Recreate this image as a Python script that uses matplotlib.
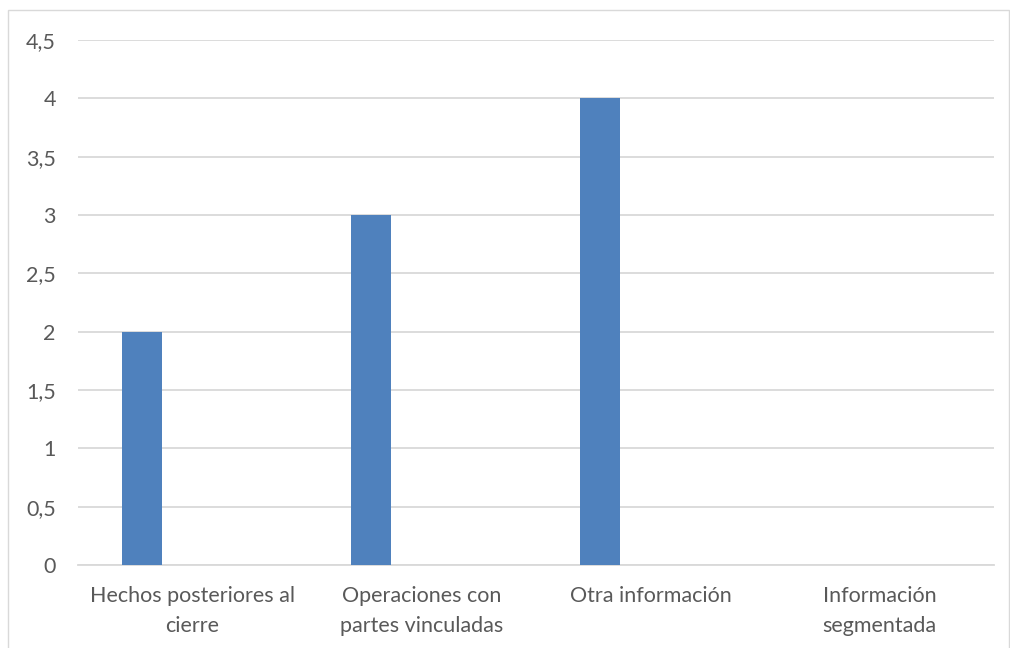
import matplotlib.pyplot as plt
import numpy as np
from matplotlib.ticker import FuncFormatter, MultipleLocator
from matplotlib.patches import Rectangle

categories = ['Hechos posteriores al\ncierre', 'Operaciones con\npartes vinculadas',
              'Otra información', 'Información\nsegmentada']
values = [2, 3, 4, 0]

plt.rcParams['font.family'] = ['Lato', 'DejaVu Sans']

fig = plt.figure(figsize=(10.1, 6.48), dpi=100)
ax = fig.add_axes([78 / 1010, 83 / 648, 916 / 1010, 525 / 648])

x = np.arange(len(categories))
ax.bar(x - 0.22, values, width=0.175, color='#4f81bd', zorder=3)

ax.set_xlim(-0.5, len(categories) - 0.5)
ax.set_ylim(0, 4.5)
ax.yaxis.set_major_locator(MultipleLocator(0.5))
ax.yaxis.set_major_formatter(FuncFormatter(lambda v, p: f"{v:g}".replace('.', ',')))
ax.grid(axis='y', color='#d9d9d9', linewidth=1.3, zorder=0)

ax.set_xticks(x)
ax.set_xticklabels(categories, linespacing=1.65)
ax.tick_params(axis='both', length=0, labelsize=15.5, labelcolor='#595959')
ax.tick_params(axis='y', pad=16)
ax.tick_params(axis='x', pad=15)

for side in ['top', 'right', 'left']:
    ax.spines[side].set_visible(False)
ax.spines['bottom'].set_color('#d9d9d9')
ax.spines['bottom'].set_linewidth(1.3)

# outer chart border
fig.patches.append(Rectangle((8 / 1010, -0.01), 1001 / 1010, 1 - 10 / 648 + 0.01,
                             transform=fig.transFigure, fill=False,
                             edgecolor='#d9d9d9', linewidth=1.0))

plt.savefig('out.png', dpi=100)
